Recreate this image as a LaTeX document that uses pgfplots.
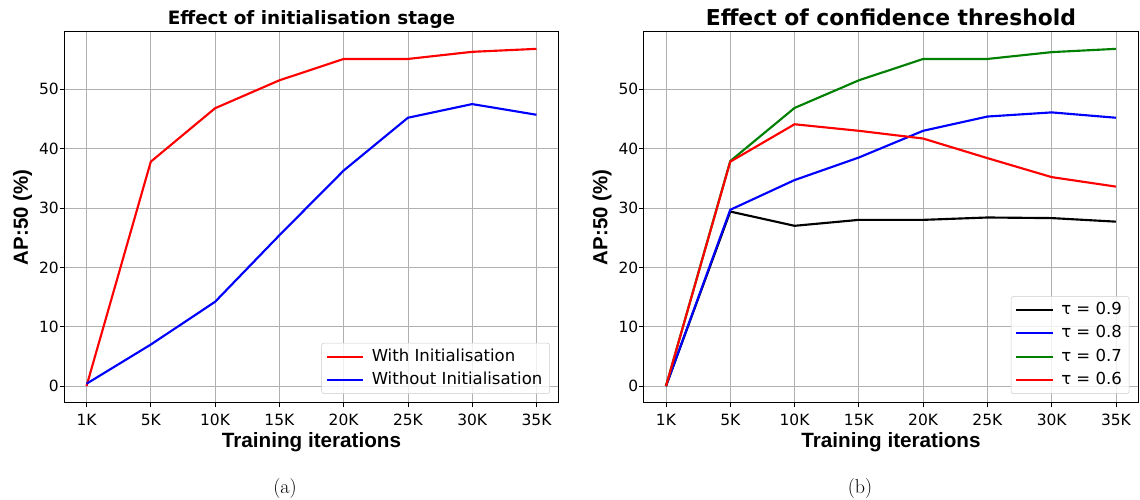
\documentclass[border=0pt]{standalone}
\usepackage{fontspec}
\usepackage{pgfplots}
\pgfplotsset{compat=1.18}
\newfontfamily\dv{DejaVu Sans}
\newfontfamily\lib{Liberation Sans}
\definecolor{mgreen}{rgb}{0,0.5,0}
\definecolor{gridc}{HTML}{B0B0B0}
\pgfplotsset{
  mystyle/.style={
    scale only axis, width=371.25pt, height=278.25pt,
    xmin=-0.35, xmax=7.35, ymin=-2.84, ymax=59.64,
    xtick={0,...,7}, xticklabels={1K,5K,10K,15K,20K,25K,30K,35K},
    ytick={0,10,...,50},
    grid=major, grid style={gridc, line width=0.6pt},
    axis line style={black, line width=0.75pt},
    tick align=outside, major tick length=3.25pt, tick style={black, line width=0.6pt},
    xtick pos=left, ytick pos=left,
    /pgf/number format/assume math mode=true,
    ticklabel style={font=\dv\fontsize{11.6}{13}\selectfont},
    xticklabel style={anchor=north, inner sep=0pt, yshift=-5pt},
    yticklabel style={anchor=east, inner sep=0pt, xshift=-0.5pt},
    xlabel style={at={(axis description cs:0.5,0)}, anchor=base, yshift=-33.5pt, font=\lib\bfseries\fontsize{15.5}{18}\selectfont},
    ylabel style={at={(axis description cs:0,0.5)}, anchor=base, yshift=27pt, font=\lib\bfseries\fontsize{15.3}{18}\selectfont},
    xlabel={Training iterations}, ylabel={AP:50 (\%)},
    legend cell align=left,
    legend image code/.code={\draw[#1] (0pt,0pt) -- (27.5pt,0pt);},
    legend style={at={(1,0)}, anchor=south east, xshift=-6.75pt, yshift=6.75pt,
      draw=black!20, rounded corners=2pt, fill=white, fill opacity=0.8, text opacity=1,
      font=\dv\fontsize{12.4}{14}\selectfont, inner xsep=3pt, inner ysep=1.5pt, row sep=0pt,
      nodes={text height=9pt, text depth=2.5pt, inner ysep=3pt, inner xsep=2.5pt},
      /tikz/every odd column/.append style={column sep=3pt}},
    every axis plot/.append style={line width=1.6pt},
  }
}
\begin{document}
\begin{tikzpicture}
\path[use as bounding box] (0,0) rectangle (855pt,375pt);
\begin{axis}[mystyle, at={(48pt,72.75pt)}, anchor=south west,
  title={Effect of initialisation stage},
  title style={at={(0.5,1)}, anchor=base, yshift=-0.75pt, font=\dv\bfseries\fontsize{13.8}{16}\selectfont}]
\addplot[red] coordinates {(0,0) (1,37.8) (2,46.8) (3,51.5) (4,55.1) (5,55.1) (6,56.3) (7,56.8)};
\addlegendentry{With Initialisation}
\addplot[blue] coordinates {(0,0.4) (1,7.0) (2,14.2) (3,25.4) (4,36.3) (5,45.2) (6,47.5) (7,45.7)};
\addlegendentry{Without Initialisation}
\end{axis}
\begin{axis}[mystyle, at={(482.6pt,72.75pt)}, anchor=south west,
  title={Effect of confidence threshold},
  title style={at={(0.5,1)}, anchor=base, yshift=-1.5pt, font=\dv\bfseries\fontsize{16.4}{19}\selectfont}]
\addplot[black] coordinates {(0,0) (1,29.4) (2,27.0) (3,28.0) (4,28.0) (5,28.4) (6,28.3) (7,27.7)};
\addlegendentry{τ = 0.9}
\addplot[blue] coordinates {(0,0) (1,29.7) (2,34.7) (3,38.5) (4,43.0) (5,45.4) (6,46.1) (7,45.2)};
\addlegendentry{τ = 0.8}
\addplot[mgreen] coordinates {(0,0) (1,37.9) (2,46.85) (3,51.5) (4,55.1) (5,55.1) (6,56.25) (7,56.8)};
\addlegendentry{τ = 0.7}
\addplot[red] coordinates {(0,0) (1,37.8) (2,44.1) (3,43.0) (4,41.7) (5,38.4) (6,35.2) (7,33.6)};
\addlegendentry{τ = 0.6}
\end{axis}
\node[anchor=base, font=\fontsize{15}{18}\selectfont] at (213.75pt,5.1pt) {(a)};
\node[anchor=base, font=\fontsize{15}{18}\selectfont] at (645pt,5.1pt) {(b)};
\end{tikzpicture}
\end{document}
